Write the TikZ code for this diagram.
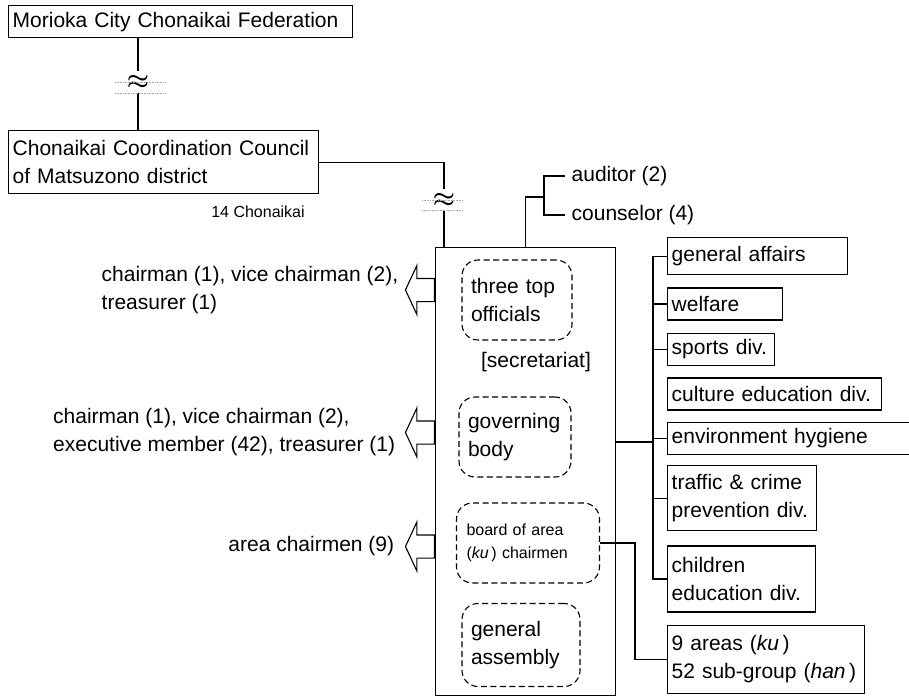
\documentclass[tikz,border=0pt]{standalone}
\usepackage{fontspec}
\setmainfont{Liberation Sans}
\usetikzlibrary{positioning,shapes.arrows,calc}

\begin{document}
\begin{tikzpicture}[
    x=1pt, y=-1pt,
    line width=1.4pt,
    every node/.style={font=\fontsize{21}{28}\selectfont},
    unit/.style={rectangle, draw, anchor=north west, align=left, inner xsep=4pt, inner ysep=0pt},
    dept/.style={rectangle, draw, anchor=north west, align=left, inner xsep=4pt, inner ysep=0pt, minimum height=32pt},
    organ/.style={rectangle, draw, dash pattern=on 6pt off 3.5pt, line width=1.1pt, rounded corners=16pt, align=left, inner xsep=9pt, minimum height=80pt},
    outlet/.style={single arrow, draw, line width=1.1pt, shape border rotate=180, minimum height=29pt, single arrow head extend=13pt, single arrow tip angle=130, inner xsep=0pt, inner ysep=11pt, anchor=tail},
    role/.style={align=left, inner sep=0pt},
    small/.style={font=\fontsize{16}{23}\selectfont},
    brk/.style={inner xsep=0pt, inner ysep=3pt, font=\fontsize{30}{30}\selectfont\boldmath},
    gap/.style={densely dotted, line width=0.6pt, gray!70}
]
    \useasboundingbox (0,0) rectangle (909,696);

    % federation and district council
    \node[unit, text width=336pt, minimum height=32pt] (fed) at (8,5) {Morioka City Chonaikai Federation};
    \node[unit, text width=302pt, minimum height=63pt] (council) at (8,130) {Chonaikai Coordination Council\\of Matsuzono district};
    \node[small] (num) at (258,212) {14 Chonaikai};

    \node[brk] (brk1) at (138,82) {$\approx$};
    \node[brk] (brk2) at (444,200) {$\approx$};

    % the association
    \node[draw, minimum width=180pt, minimum height=448pt, anchor=north west, inner sep=0pt] (assoc) at (435,247) {};
    \node[organ, text width=92pt] (top3) at (517,300) {three top\\officials};
    \node (secr) at (536,362) {[secretariat]};
    \node[organ, text width=94pt] (govern) at (515,437) {governing\\body};
    \node[organ, small, text width=123pt, inner xsep=10pt] (board) at (528,543) {board of area\\(\textit{ku}\,) chairmen};
    \node[organ, text width=100pt, minimum height=83pt] (assembly) at (521,645) {general\\assembly};

    % members
    \node[outlet] (out1) at (435,290) {};
    \node[outlet] (out2) at (435,432.5) {};
    \node[outlet] (out3) at (435,546.5) {};
    \node[role, left=6pt of out1.tip] (lab1) {chairman (1), vice chairman (2),\\treasurer (1)};
    \node[role, left=9pt of out2.tip] (lab2) {chairman (1), vice chairman (2),\\executive member (42), treasurer (1)};
    \node[role, left=10pt of out3.tip] (lab3) {area chairmen (9)};

    % auditors
    \node[anchor=west, inner xsep=6pt, inner ysep=0pt] (aud) at (565,176) {auditor (2)};
    \node[anchor=west, inner xsep=6pt, inner ysep=0pt] (couns) at (565,215) {counselor (4)};
    \coordinate (sup) at (544,197);

    % divisions
    \node[dept, text width=172pt, minimum height=37pt] (gen) at (667,237) {general affairs};
    \node[dept, text width=107pt, below=12pt of gen.south west, anchor=north west] (welf) {welfare};
    \node[dept, text width=99pt, below=12pt of welf.south west, anchor=north west] (sport) {sports div.};
    \node[dept, text width=206pt, below=11pt of sport.south west, anchor=north west] (cult) {culture education div.};
    \node[dept, text width=260pt, below=11pt of cult.south west, anchor=north west] (envir) {environment hygiene};
    \node[dept, text width=141pt, minimum height=65pt, below=10pt of envir.south west, anchor=north west] (traf) {traffic \& crime\\prevention div.};
    \node[dept, text width=140pt, minimum height=66pt, below=14pt of traf.south west, anchor=north west] (child) {children\\education div.};
    \node[dept, text width=189pt, minimum height=68pt, below=12pt of child.south west, anchor=north west] (areas) {9 areas (\textit{ku}\,)\\52 sub-group (\textit{han}\,)};
    \coordinate (bus) at (653,442);

    % connections
    \draw (fed.south -| brk1) -- (brk1.north);
    \draw (brk1.south) -- (brk1 |- council.north);
    \draw[gap] ($(brk1.center)+(-23,0)$) -- ($(brk1.center)+(27,0)$);
    \draw[gap] ($(brk1.center)+(-23,11)$) -- ($(brk1.center)+(27,11)$);
    \draw (council.east) -| (brk2.north);
    \draw (brk2.south) -- (brk2 |- assoc.north);
    \draw[gap] ($(brk2.center)+(-22,0)$) -- ($(brk2.center)+(19,0)$);
    \draw[gap] ($(brk2.center)+(-22,10)$) -- ($(brk2.center)+(19,10)$);

    \draw (aud.west) -| (sup) |- (couns.west);
    \draw (sup) -| (assoc.north);

    \draw (assoc.east |- bus) -- (bus);
    \draw (gen.west) -| (bus |- child.west) -- (child.west);
    \foreach \d in {welf,sport,envir,traf}
        \draw (\d.west) -- (\d.west -| bus);
    \draw (board.east) -- ++(35,0) |- (areas.west);
\end{tikzpicture}
\end{document}
